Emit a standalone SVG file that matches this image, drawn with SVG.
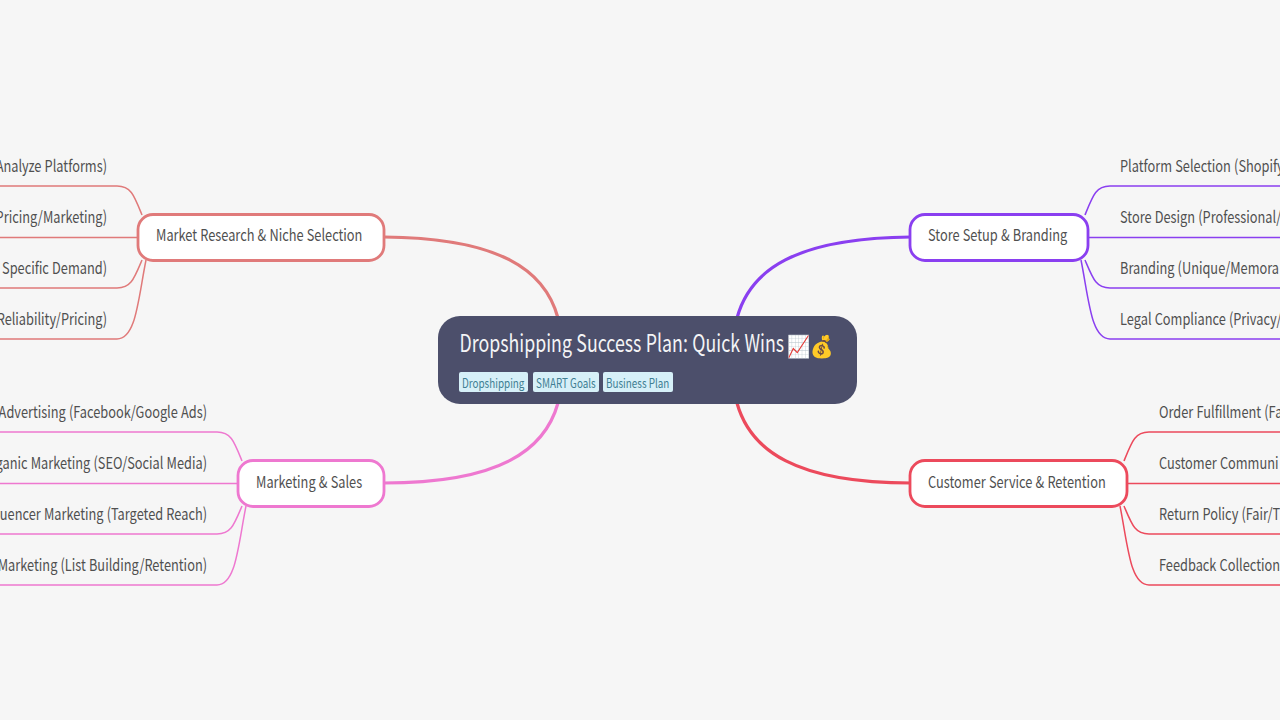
<svg xmlns="http://www.w3.org/2000/svg" width="1280" height="720" viewBox="0 0 1280 720">
<style>
text{font-family:"Noto Sans CJK SC","Noto Sans",sans-serif;fill:#505050;font-size:16.500px;word-spacing:.400px}
.l{text-anchor:end}
.c{fill:none}
.t1{stroke-width:3.2}
.t2{stroke-width:1.5}
.red1{stroke:#e07a7a}.pur{stroke:#8a3ff0}.pink{stroke:#ee78d0}.red2{stroke:#ec4a5c}
.box{fill:#fff;stroke-width:2.800px}
.tag{fill:#d6f0f8}
.tagt{font-size:12.500px;fill:#3f7f93;word-spacing:0}
</style>
<rect width="1280" height="720" fill="#f6f6f6"/>
<g id="connectors" class="c">
<path class="t1 red1" d="M558 318C545 270 500 238 384 237"/>
<path class="t1 pur" d="M737 318C750 270 795 238 911 237"/>
<path class="t1 pink" d="M558 403C545 450 500 483 384 483"/>
<path class="t1 red2" d="M737 403C750 450 795 483 911 483"/>
<g class="t2 red1">
<path d="M142 215C134 195 131 186 117 186H-5"/><path d="M138 237.500H-5"/>
<path d="M142 260C134 279 131 288 117 288H-5"/><path d="M146 260C138 300 136 339 117 339H-5"/>
</g>
<g class="t2 pink">
<path d="M242 461C234 441 231 432 217 432H-5"/><path d="M238 483.500H-5"/>
<path d="M242 506C234 525 231 534 217 534H-5"/><path d="M246 506C238 546 236 585 217 585H-5"/>
</g>
<g class="t2 pur">
<path d="M1085 215C1093 195 1096 186 1110 186H1285"/><path d="M1089 237.500H1285"/>
<path d="M1085 260C1093 279 1096 288 1110 288H1285"/><path d="M1081 260C1089 300 1091 339 1110 339H1285"/>
</g>
<g class="t2 red2">
<path d="M1124 461C1132 441 1135 432 1149 432H1285"/><path d="M1128 483.500H1285"/>
<path d="M1124 506C1132 525 1135 534 1149 534H1285"/><path d="M1120 506C1128 546 1130 585 1149 585H1285"/>
</g>
</g>
<g id="root">
<rect x="438" y="316" width="419" height="88" rx="22" fill="#4c4f6b"/>
<text transform="translate(459.500 352) scale(.74 1)" style="font-size:24px;fill:#f4f4f6;word-spacing:.6px">Dropshipping Success Plan: Quick Wins</text>
<text transform="translate(787 354) scale(.87 1)" style="font-size:21.500px;font-family:'Noto Color Emoji','Noto Sans CJK SC',sans-serif">📈💰</text>
<rect class="tag" x="459" y="372" width="69" height="20" rx="2"/><text class="tagt" transform="translate(462 388) scale(.79 1)">Dropshipping</text>
<rect class="tag" x="533" y="372" width="66" height="20" rx="2"/><text class="tagt" transform="translate(536 388) scale(.79 1)">SMART Goals</text>
<rect class="tag" x="603" y="372" width="70" height="20" rx="2"/><text class="tagt" transform="translate(606 388) scale(.79 1)">Business Plan</text>
</g>
<g id="market"><rect class="box red1" x="138" y="214.500" width="246" height="46" rx="15"/><text transform="translate(156 241) scale(.775 1)">Market Research &amp; Niche Selection</text></g>
<g id="market-leaves">
<text class="l" transform="translate(107 171.500) scale(.775 1)">Analyze Platforms)</text>
<text class="l" transform="translate(107 222.500) scale(.775 1)">Pricing/Marketing)</text>
<text class="l" transform="translate(107 273.500) scale(.775 1)">Specific Demand)</text>
<text class="l" transform="translate(107 324.500) scale(.775 1)">Reliability/Pricing)</text>
</g>
<g id="sales"><rect class="box pink" x="238" y="460.500" width="146" height="46" rx="15"/><text transform="translate(256 487.500) scale(.775 1)">Marketing &amp; Sales</text></g>
<g id="sales-leaves">
<text class="l" transform="translate(207 417.500) scale(.775 1)">Advertising (Facebook/Google Ads)</text>
<text class="l" transform="translate(207 468.500) scale(.775 1)">ganic Marketing (SEO/Social Media)</text>
<text class="l" transform="translate(207 519.500) scale(.775 1)">uencer Marketing (Targeted Reach)</text>
<text class="l" transform="translate(207 570.500) scale(.775 1)">Marketing (List Building/Retention)</text>
</g>
<g id="store"><rect class="box pur" x="910" y="214.500" width="178" height="46" rx="15"/><text transform="translate(928 241) scale(.775 1)">Store Setup &amp; Branding</text></g>
<g id="store-leaves">
<text transform="translate(1120 171.500) scale(.775 1)">Platform Selection (Shopify</text>
<text transform="translate(1120 222.500) scale(.775 1)">Store Design (Professional/</text>
<text transform="translate(1120 273.500) scale(.775 1)">Branding (Unique/Memora</text>
<text transform="translate(1120 324.500) scale(.775 1)">Legal Compliance (Privacy/</text>
</g>
<g id="service"><rect class="box red2" x="910" y="460.500" width="217" height="46" rx="15"/><text transform="translate(928 487.500) scale(.775 1)">Customer Service &amp; Retention</text></g>
<g id="service-leaves">
<text transform="translate(1159 417.500) scale(.775 1)">Order Fulfillment (Fa</text>
<text transform="translate(1159 468.500) scale(.775 1)">Customer Communi</text>
<text transform="translate(1159 519.500) scale(.775 1)">Return Policy (Fair/T</text>
<text transform="translate(1159 570.500) scale(.775 1)">Feedback Collection</text>
</g>
</svg>
